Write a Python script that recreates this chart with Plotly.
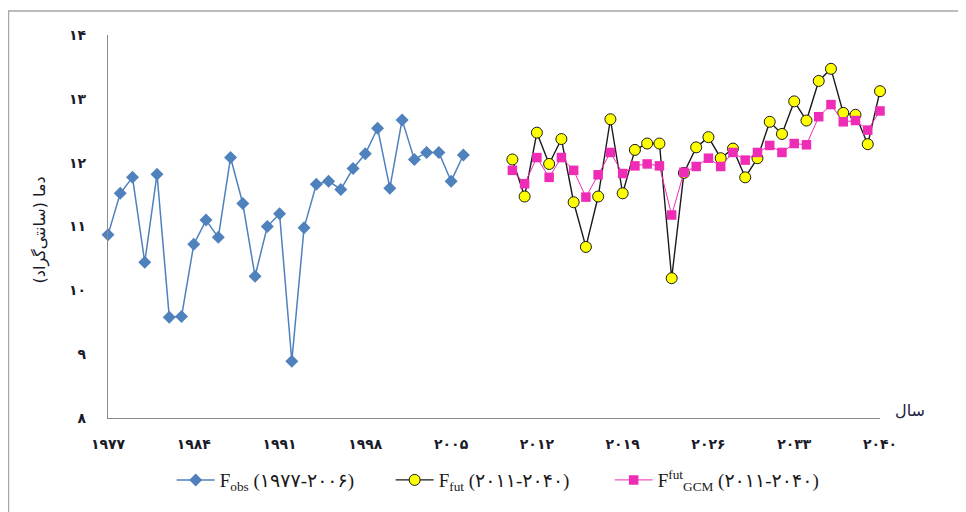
import plotly.graph_objects as go

# ---------------- data ----------------
obs_years = list(range(1977, 2007))
obs_vals = [10.87, 11.52, 11.77, 10.44, 11.82, 9.58, 9.59, 10.72, 11.10, 10.83,
            12.08, 11.36, 10.22, 11.00, 11.20, 8.89, 10.98, 11.66, 11.71, 11.58,
            11.91, 12.14, 12.54, 11.60, 12.67, 12.05, 12.16, 12.16, 11.71, 12.12]

fut_years = list(range(2010, 2041))
fut_vals = [12.05, 11.47, 12.47, 11.98, 12.37, 11.38, 10.68, 11.47, 12.68, 11.52,
            12.20, 12.30, 12.30, 10.19, 11.84, 12.24, 12.40, 12.07, 12.22, 11.77,
            12.07, 12.64, 12.45, 12.96, 12.66, 13.28, 13.47, 12.78, 12.75, 12.29,
            13.12]
gcm_vals = [11.88, 11.67, 12.08, 11.77, 12.08, 11.88, 11.46, 11.81, 12.16, 11.83,
            11.95, 11.98, 11.95, 11.18, 11.85, 11.94, 12.07, 11.94, 12.16, 12.04,
            12.16, 12.27, 12.16, 12.30, 12.28, 12.72, 12.91, 12.64, 12.66, 12.51,
            12.81]

x_tick_vals = [1977, 1984, 1991, 1998, 2005, 2012, 2019, 2026, 2033, 2040]
y_tick_vals = [8, 9, 10, 11, 12, 13, 14]

obs_name = "F<sub>obs</sub> (۱۹۷۷-۲۰۰۶)"
fut_name = "F<sub>fut</sub> (۲۰۱۱-۲۰۴۰)"
gcm_name = "F<sup>fut</sup><sub>GCM</sub> (۲۰۱۱-۲۰۴۰)"
y_title = "دما (سانتی‌گراد)\u200f"
x_title = "سال"

FA = str.maketrans("0123456789", "۰۱۲۳۴۵۶۷۸۹")
def fa(v):
    return str(v).translate(FA)

# ---------------- figure ----------------
fig = go.Figure()
fig.add_trace(go.Scatter(
    x=obs_years, y=obs_vals, name=obs_name, mode="lines+markers",
    line=dict(color="#4F81BD", width=1.5),
    marker=dict(symbol="diamond", size=10, color="#4F81BD"),
    cliponaxis=False))
fig.add_trace(go.Scatter(
    x=fut_years, y=fut_vals, name=fut_name, mode="lines+markers",
    line=dict(color="#1a1a1a", width=1.4),
    marker=dict(symbol="circle", size=11, color="#FFFF00",
                line=dict(color="#1a1a1a", width=1)),
    cliponaxis=False))
fig.add_trace(go.Scatter(
    x=fut_years, y=gcm_vals, name=gcm_name, mode="lines+markers",
    line=dict(color="#EF2CB5", width=1),
    marker=dict(symbol="square", size=9.5, color="#EF2CB5"),
    cliponaxis=False))

tick_font = dict(family="DejaVu Sans", size=14, color="#1a1a2a", weight="bold")

PW, PH = 772, 383  # plot area size in px

fig.update_layout(
    width=958, height=504,
    margin=dict(l=100, r=86, t=27, b=94),
    paper_bgcolor="white", plot_bgcolor="white",
    showlegend=True,
    legend=dict(orientation="h", x=0.508, xanchor="center", y=-0.162,
                yanchor="middle", itemwidth=38,
                entrywidth=166, entrywidthmode="pixels",
                font=dict(family="Liberation Serif, DejaVu Sans", size=19,
                          color="#1a1a1a"),
                bgcolor="rgba(0,0,0,0)"),
    xaxis=dict(range=[1977, 2040], showgrid=False, zeroline=False,
               showline=True, linecolor="#8a8a8a", linewidth=1.2,
               tickmode="array", tickvals=x_tick_vals,
               ticktext=[fa(v) for v in x_tick_vals],
               ticks="", tickfont=tick_font, ticklabelstandoff=13),
    yaxis=dict(range=[8, 14], showgrid=False, zeroline=False,
               showline=True, linecolor="#8a8a8a", linewidth=1.2,
               tickmode="array", tickvals=y_tick_vals,
               ticktext=[fa(v) for v in y_tick_vals],
               ticks="", tickfont=tick_font, ticklabelstandoff=18),
    annotations=[
        dict(text=y_title, xref="paper", yref="paper", x=-0.088, y=0.49,
             xanchor="center", yanchor="middle", textangle=-90,
             showarrow=False,
             font=dict(family="DejaVu Sans", size=16, color="#1a1a2a")),
        dict(text=x_title, xref="paper", yref="paper", x=1.039, y=0.02,
             xanchor="center", yanchor="middle", showarrow=False,
             font=dict(family="DejaVu Sans", size=16, color="#1a2040")),
    ],
    shapes=[
        dict(type="rect", xref="paper", yref="paper",
             x0=-99.5 / PW, x1=1.3, y0=-0.5, y1=1 + 24 / PH,
             line=dict(color="#a6a6a6", width=1.5), layer="above"),
    ],
)

fig.write_html("out.html")
